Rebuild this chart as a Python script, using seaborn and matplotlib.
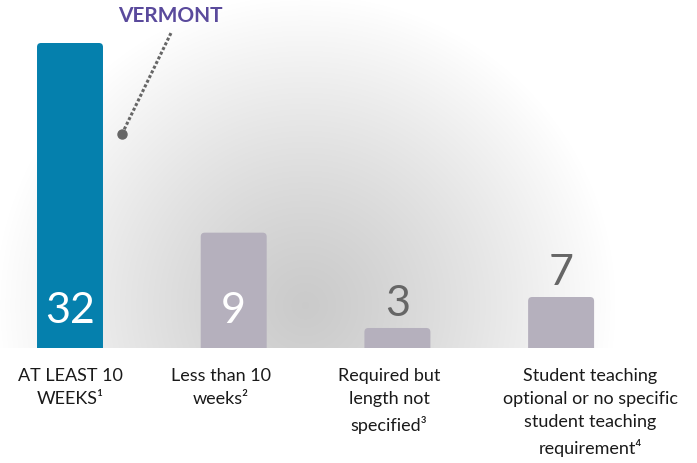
import numpy as np
import pandas as pd
import matplotlib
matplotlib.use("Agg")
import matplotlib.pyplot as plt
from matplotlib.patches import FancyBboxPatch
from matplotlib.lines import Line2D
import seaborn as sns

# ---- data ----
categories = ["at_least_10", "less_than_10", "req_unspecified", "optional"]
values = [32, 9, 3, 7]                      # printed numbers
bar_heights = [32, 12.1, 2.1, 5.35]         # drawn bar lengths
tick_labels = [
    "AT LEAST 10\nWEEKS¹",
    "Less than 10\nweeks²",
    "Required but\nlength not\nspecified³",
    "Student teaching\noptional or no specific\nstudent teaching\nrequirement⁴",
]
highlight_label = "VERMONT"
bar_colors = ["#0580ad", "#b5b0bd", "#b5b0bd", "#b5b0bd"]

sns.set_theme(style="white")
plt.rcParams["font.family"] = ["Lato", "DejaVu Sans"]

W, H, DPI = 697, 463, 100
fig = plt.figure(figsize=(W / DPI, H / DPI), dpi=DPI)
fig.patch.set_facecolor("white")
base_px = 348
ax = fig.add_axes([0, (H - base_px) / H, 1, base_px / H])
ax.set_facecolor("none")

df = pd.DataFrame({"cat": categories, "h": bar_heights})
sns.barplot(data=df, x="cat", y="h", hue="cat", palette=bar_colors,
            legend=False, width=0.403, ax=ax, saturation=1)

px_per_unit = 163.7
xlim = (-70 / px_per_unit, (W - 70) / px_per_unit)
ytop = 32 * base_px / 305
ax.set_xlim(*xlim)
ax.set_ylim(0, ytop)
for s in ax.spines.values():
    s.set_visible(False)
ax.set_xticks([])
ax.set_yticks([])
ax.set_xlabel("")
ax.set_ylabel("")

# radial gradient background
gx, gy = np.meshgrid(np.arange(W), np.arange(base_px))
d = np.sqrt((gx - 305) ** 2 + (gy - 305) ** 2) / 310
dc = np.clip(d, 0, 1)
inten = 0.795 + 0.205 * dc ** 1.2
img = np.dstack([inten, inten, inten])
ax.imshow(img, extent=(xlim[0], xlim[1], 0, ytop), origin="upper",
          aspect="auto", zorder=0, interpolation="bilinear")
ax.set_xlim(*xlim)
ax.set_ylim(0, ytop)

# rounded-top bars replacing seaborn rectangles
xu = 4 / px_per_unit
yu = 4 / base_px * ytop
patches = list(ax.patches)
for p in patches:
    x, w, h = p.get_x(), p.get_width(), p.get_height()
    fc = p.get_facecolor()
    p.set_visible(False)
    fb = FancyBboxPatch((x, -1), w, h + 1,
                        boxstyle=f"round,pad=0,rounding_size={xu}",
                        mutation_aspect=yu / xu, facecolor=fc,
                        edgecolor="none", zorder=2, clip_on=True)
    ax.add_patch(fb)

# value labels
for p, v in zip(patches, values):
    cx = p.get_x() + p.get_width() / 2
    h = p.get_height()
    if h > 8:
        ax.text(cx, (base_px - 311) / base_px * ytop, str(v), ha="center",
                va="center", color="white", fontsize=31, zorder=3)
    else:
        ax.annotate(str(v), (cx, h), xytext=(0, 17), textcoords="offset points",
                    ha="center", va="center", color="#666666", fontsize=31,
                    zorder=3)

# category labels under the bars
label_dx = [0, -9, -6, 21]
for i, (p, lab) in enumerate(zip(patches, tick_labels)):
    cx = p.get_x() + p.get_width() / 2
    ax.annotate(lab, (cx, 0), xycoords=("data", "axes fraction"),
                xytext=(label_dx[i], -14.5), textcoords="offset points",
                ha="center", va="top", fontsize=13, color="#1a1a1a",
                linespacing=1.55, annotation_clip=False, multialignment="center")

# VERMONT callout
fig.text(170 / W, 1 - 16 / H, highlight_label, ha="center", va="center",
         fontsize=15, fontweight="bold", color="#5a4a9c")
x0, y0 = 122 / W, 1 - 134 / H
x1, y1 = 171 / W, 1 - 33 / H
fig.add_artist(Line2D([x0, x1], [y0, y1], transform=fig.transFigure,
                      color="#666666", lw=2.2, linestyle=(0, (1, 0.7)),
                      dash_capstyle="butt"))
fig.add_artist(Line2D([x0], [y0], transform=fig.transFigure, marker="o",
                      markersize=6.5, color="#666666", linestyle="none"))

fig.savefig("out.png", dpi=DPI, facecolor="white")
